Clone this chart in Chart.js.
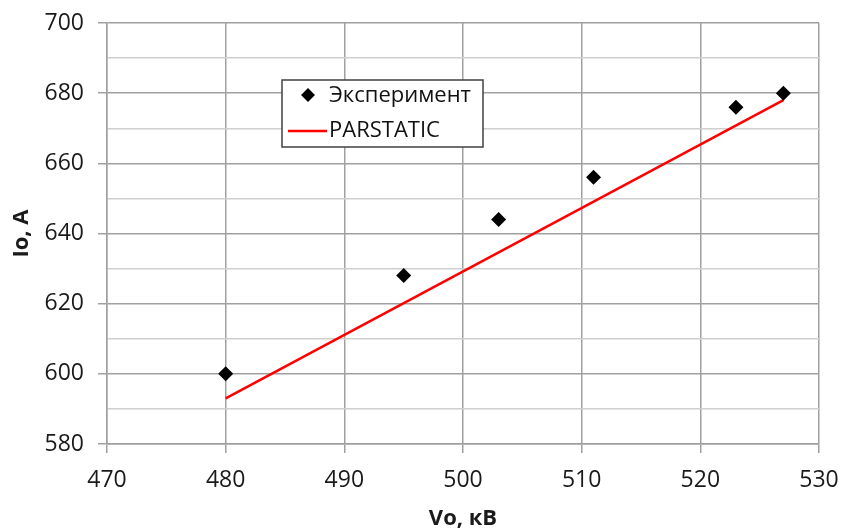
<!DOCTYPE html>
<html>
<head>
<meta charset="utf-8">
<script src="https://cdn.jsdelivr.net/npm/chart.js@4.4.0/dist/chart.umd.min.js"></script>
<style>
    html, body { margin: 0; padding: 0; background: #fff; }
    #wrap { width: 843px; height: 532px; position: relative; }
</style>
</head>
<body>
<div id="wrap"><canvas id="chart" width="843" height="532"></canvas></div>
<script>
// Experiment points
const expV = [480, 495, 503, 511, 523, 527];
const expI = [600, 628, 644, 656, 676, 680];

// PARSTATIC calculated line (end points)
const calcV = [480, 527];
const calcI = [593, 678];

const xTicks = [470, 480, 490, 500, 510, 520, 530];
const yTicks = [580, 600, 620, 640, 660, 680, 700];

const seriesNames = ['Эксперимент', 'PARSTATIC'];
const axisTitles = { x: 'Vo, кВ', y: 'Io, A' };

const FONT = "'Open Sans', 'Noto Sans', sans-serif";
const MAJOR = '#a0a0a0';
const MINOR = '#cfcfcf';

// draws the legend box inside the plot, like the original
const boxLegend = {
    id: 'boxLegend',
    afterDraw(chart) {
        const ctx = chart.ctx;
        const x = 282, y = 80, w = 201, h = 67;
        ctx.save();
        ctx.fillStyle = '#fff';
        ctx.fillRect(x, y, w, h);
        ctx.strokeStyle = '#404040';
        ctx.lineWidth = 1.5;
        ctx.strokeRect(x, y, w, h);

        // marker
        const ds0 = chart.data.datasets[0];
        ctx.fillStyle = ds0.pointBackgroundColor;
        ctx.beginPath();
        ctx.moveTo(308, 88); ctx.lineTo(315, 95); ctx.lineTo(308, 102); ctx.lineTo(301, 95);
        ctx.closePath();
        ctx.fill();

        // line
        const ds1 = chart.data.datasets[1];
        ctx.strokeStyle = ds1.borderColor;
        ctx.lineWidth = 2.5;
        ctx.beginPath();
        ctx.moveTo(288, 131);
        ctx.lineTo(327, 131);
        ctx.stroke();

        ctx.fillStyle = '#111';
        ctx.font = '22px ' + FONT;
        ctx.textBaseline = 'middle';
        ctx.fillText(ds0.label, 329, 96);
        ctx.fillText(ds1.label, 329, 131);
        ctx.restore();
    }
};

const ctx = document.getElementById('chart').getContext('2d');
new Chart(ctx, {
    type: 'scatter',
    data: {
        datasets: [{
            label: seriesNames[0],
            data: expV.map((v, i) => ({ x: v, y: expI[i] })),
            pointStyle: 'rectRot',
            pointRadius: 7.5,
            pointHoverRadius: 7.5,
            pointBackgroundColor: '#000',
            pointBorderWidth: 0,
            showLine: false,
            order: 1
        }, {
            label: seriesNames[1],
            data: calcV.map((v, i) => ({ x: v, y: calcI[i] })),
            borderColor: '#ff0000',
            borderWidth: 2.5,
            pointRadius: 0,
            showLine: true,
            order: 2
        }]
    },
    options: {
        responsive: false,
        animation: false,
        layout: { padding: { left: 0, right: 24, top: 23, bottom: 0 } },
        plugins: { legend: { display: false }, tooltip: { enabled: false } },
        scales: {
            x: {
                type: 'linear',
                min: xTicks[0],
                max: xTicks[xTicks.length - 1],
                afterBuildTicks: s => { s.ticks = xTicks.map(v => ({ value: v })); },
                afterFit: s => { s.height = 88; s.paddingLeft = 0; s.paddingRight = 0; },
                border: { color: MAJOR, width: 1.5 },
                grid: { color: MAJOR, lineWidth: 1.5, tickLength: 9, tickColor: MAJOR },
                ticks: { color: '#1a1a1a', font: { family: FONT, size: 23 }, padding: 14 },
                title: {
                    display: true, text: axisTitles.x, color: '#1a1a1a',
                    font: { family: FONT, size: 22, weight: 'bold' },
                    padding: { top: 0, bottom: 0 }
                }
            },
            y: {
                type: 'linear',
                min: yTicks[0],
                max: yTicks[yTicks.length - 1],
                ticks: {
                    stepSize: 10,
                    color: '#1a1a1a',
                    font: { family: FONT, size: 23 },
                    padding: 14,
                    callback: v => (yTicks.includes(v) ? v : '')
                },
                afterFit: s => { s.width = 107; s.paddingTop = 0; s.paddingBottom = 0; },
                border: { color: MAJOR, width: 1.5 },
                grid: {
                    color: c => (yTicks.includes(c.tick.value) ? MAJOR : MINOR),
                    lineWidth: 1.5,
                    tickLength: 9,
                    tickColor: c => (yTicks.includes(c.tick.value) ? MAJOR : 'rgba(0,0,0,0)')
                },
                title: {
                    display: true, text: axisTitles.y, color: '#1a1a1a',
                    font: { family: FONT, size: 22, weight: 'bold' },
                    padding: { top: 9, bottom: 0 }
                }
            }
        }
    },
    plugins: [boxLegend]
});
</script>
</body>
</html>
